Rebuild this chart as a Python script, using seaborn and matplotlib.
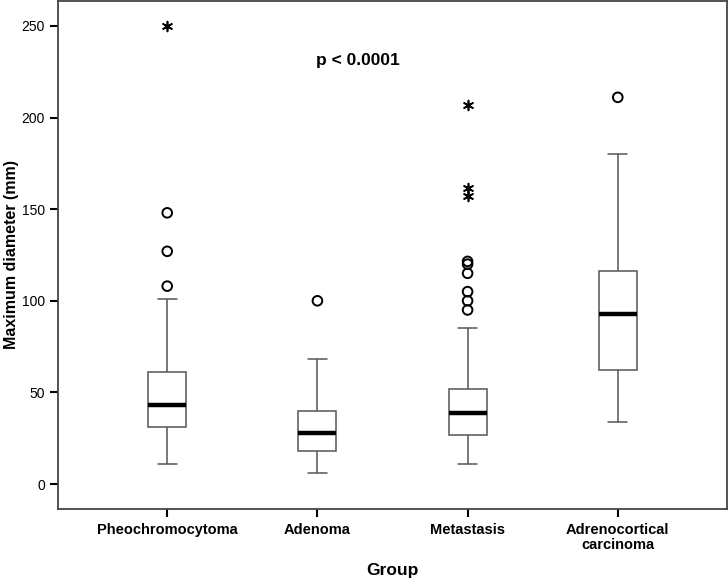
import numpy as np
import pandas as pd
import matplotlib
matplotlib.use("Agg")
import matplotlib.pyplot as plt
import seaborn as sns

# Box summaries (mm)
groups = ["Pheochromocytoma", "Adenoma", "Metastasis", "Adrenocortical\ncarcinoma"]
whisker_low = [11, 6, 11, 34]
q1 = [31, 18, 27, 62]
median = [43, 28, 39, 93]
q3 = [61, 40, 52, 116]
whisker_high = [101, 68, 85, 180]

# outliers (circles) and extreme values (asterisks)
outliers = [[108, 127, 148], [100], [95, 100, 105, 115, 120, 121.5], [211]]
extremes = [[250], [], [157, 161.5, 207], []]

p_text = "p < 0.0001"

sns.set_style("white")
plt.rcParams["font.family"] = ["Liberation Sans", "DejaVu Sans"]
plt.rcParams["text.color"] = "black"
plt.rcParams["axes.labelcolor"] = "black"
plt.rcParams["xtick.color"] = "black"
plt.rcParams["ytick.color"] = "black"

# five values per group so that seaborn's quartiles land exactly on the summary
rows = []
for g, lo, a, m, b, hi in zip(groups, whisker_low, q1, median, q3, whisker_high):
    for v in (lo, a, m, b, hi):
        rows.append({"Group": g, "value": v})
df = pd.DataFrame(rows)

out_rows = []
for i, g in enumerate(groups):
    for v in outliers[i]:
        out_rows.append({"pos": i, "value": v, "kind": "outlier"})
    for v in extremes[i]:
        out_rows.append({"pos": i, "value": v, "kind": "extreme"})
out_df = pd.DataFrame(out_rows)

fig = plt.figure(figsize=(7.28, 5.82), dpi=100)
ax = fig.add_axes([0.0797, 0.1254, 0.9189, 0.873])

line_col = "#555555"
sns.boxplot(
    data=df, x="Group", y="value", order=groups, ax=ax,
    whis=(0, 100), showfliers=False, width=0.253,
    color="white", linecolor=line_col, linewidth=1.1,
    medianprops={"color": "black", "linewidth": 3.2},
)

circ = out_df[out_df["kind"] == "outlier"]
sns.scatterplot(
    x=circ["pos"], y=circ["value"], ax=ax, marker="o", s=48,
    color="black", facecolor="none", edgecolor="black", linewidth=1.4,
    zorder=5, legend=False,
)
star = out_df[out_df["kind"] == "extreme"]
sns.scatterplot(
    x=star["pos"], y=star["value"], ax=ax, marker=(6, 2, 0), s=50,
    color="black", linewidth=1.2, zorder=5, legend=False,
)

ax.text(1.27, 231, p_text, ha="center", va="center", fontsize=12.5, fontweight="bold")

ax.set_xlim(-0.727, 3.727)
ax.set_ylim(-13.6, 263.6)
ax.set_yticks([0, 50, 100, 150, 200, 250])
ax.set_xticks(range(len(groups)))
ax.set_xticklabels(groups, fontweight="bold", fontsize=10.5, linespacing=1.1)
ax.tick_params(axis="y", labelsize=10, direction="out", length=6, width=1.5, left=True)
ax.tick_params(axis="x", direction="out", length=6, width=1.5, bottom=True, pad=4)

ax.set_xlabel("Group", fontsize=12.5, fontweight="bold", labelpad=8)
ax.set_ylabel("Maximum diameter (mm)", fontsize=11.5, fontweight="bold", labelpad=2)

for s in ax.spines.values():
    s.set_visible(True)
    s.set_color("#444444")
    s.set_linewidth(1.3)

fig.savefig("out.png", dpi=100)
